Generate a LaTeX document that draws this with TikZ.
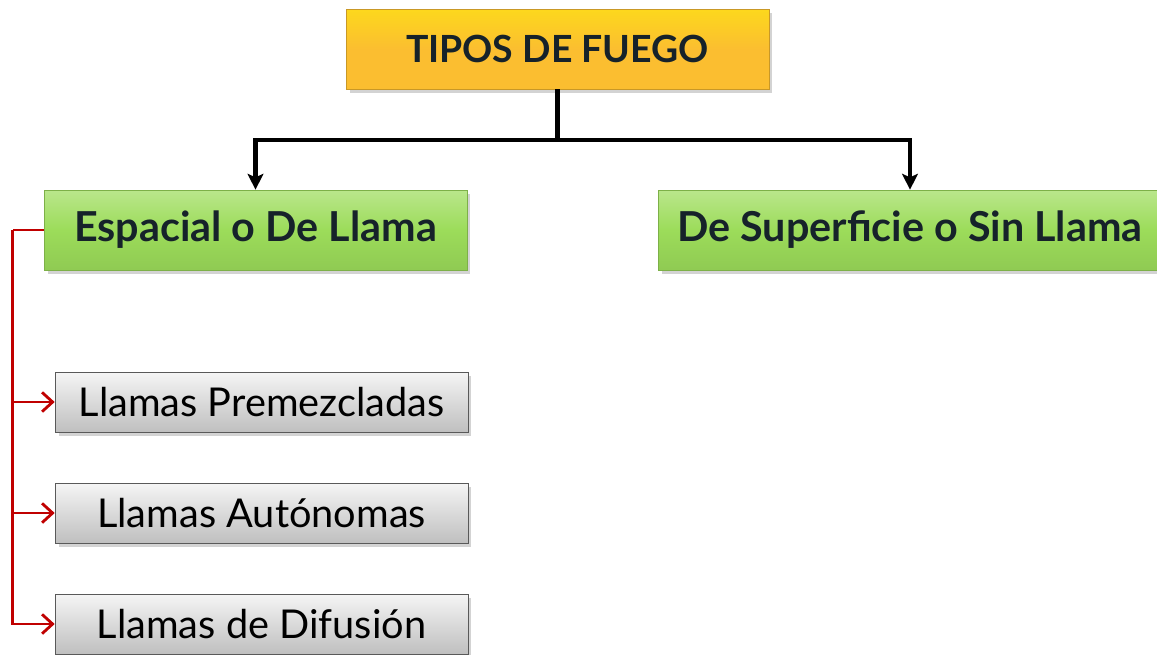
\documentclass[tikz,border=0pt]{standalone}
\usepackage{fontspec}
\setmainfont{Lato}
\usetikzlibrary{shadows,arrows.meta}
\definecolor{tinta}{HTML}{16222A}
\definecolor{naranja}{HTML}{FBBE30}
\definecolor{verde}{HTML}{9CDC5A}
\definecolor{rojizo}{HTML}{C00000}
\begin{document}
\begin{tikzpicture}[x=0.02cm,y=-0.02cm,
  caja/.style={rectangle, inner sep=0pt, text=tinta,
    drop shadow={shadow xshift=2pt, shadow yshift=-2pt, opacity=.35}},
  titulo/.style={caja, draw=naranja!80!black, top color=naranja!60!yellow, bottom color=naranja,
    middle color=naranja, minimum width=8.46cm, minimum height=1.6cm,
    font=\fontsize{21.3}{25}\selectfont\bfseries},
  clase/.style={caja, draw=verde!80!black, top color=verde!70!white, bottom color=verde!92!black,
    middle color=verde, minimum height=1.6cm, font=\fontsize{23.5}{28}\selectfont\bfseries},
  llama/.style={caja, draw=black!65, top color=black!4, bottom color=black!25,
    minimum width=8.26cm, minimum height=1.2cm, text=black, font=\fontsize{22.6}{27}\selectfont},
  negro/.style={line width=2.3pt, -{Stealth[length=9pt, width=9pt, inset=2pt]}},
  rojo/.style={line width=1.6pt, rojizo, -{Straight Barb[length=6pt, width=11pt]}}]
\useasboundingbox (0,0) rectangle (1157,654);
\node[titulo] (tipos) at (557.5,49) {TIPOS DE FUEGO};
\node[clase, minimum width=8.46cm] (espacial) at (255.5,230) {Espacial o De Llama};
\node[clase, minimum width=10.08cm] (superficie) at (910,230) {De Superficie o Sin Llama};
\node[llama] (premezcladas) at (261.5,402) {Llamas Premezcladas};
\node[llama] (autonomas) at (261.5,513) {Llamas Autónomas};
\node[llama] (difusion) at (261.5,624) {Llamas de Difusión};
% arbol principal
\draw[line width=2.3pt] (tipos.south) -- ++(0,51) coordinate (rama);
\draw[negro] (rama) -| (espacial.north);
\draw[negro] (rama) -| (superficie.north);
% ramas de la llama
\draw[line width=1.6pt, rojizo] (espacial.west) -- ++(-31,0) coordinate (bus);
\draw[rojo] (bus) |- (premezcladas.west);
\draw[rojo] (bus) |- (autonomas.west);
\draw[rojo] (bus) |- (difusion.west);
\end{tikzpicture}
\end{document}
